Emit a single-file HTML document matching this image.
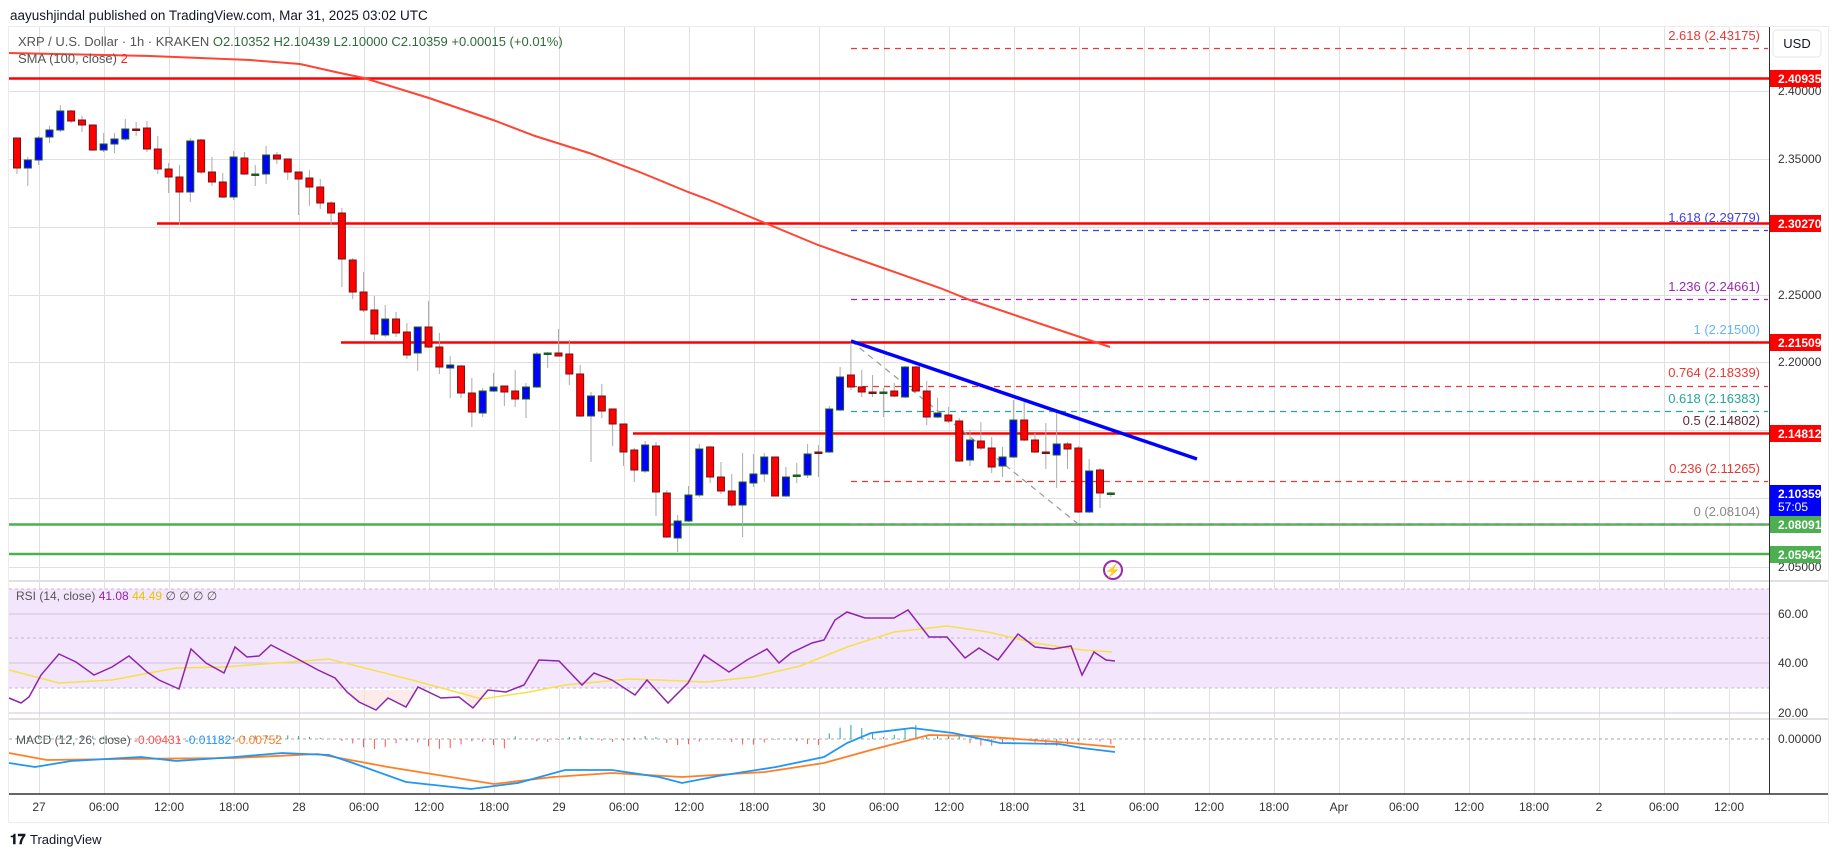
<!DOCTYPE html>
<html><head><meta charset="utf-8"><style>
html,body{margin:0;padding:0;background:#fff;}
svg{display:block;font-family:"Liberation Sans",sans-serif;}
</style></head><body>
<svg id="s" width="1835" height="857" xmlns="http://www.w3.org/2000/svg">
<rect x="0" y="0" width="1835" height="857" fill="#fff"/>
<text x="10" y="20" font-size="13.5" fill="#131722">aayushjindal published on TradingView.com, Mar 31, 2025 03:02 UTC</text>
<rect x="8.5" y="26.5" width="1820" height="796" fill="#fff" stroke="#ececec"/>
<g id="grid" stroke="#e0e0e0" stroke-width="1"></g>
<!-- horizontal key lines -->
<line x1="9" y1="78.5" x2="1769" y2="78.5" stroke="#ff0000" stroke-width="2.5"/>
<line x1="157" y1="223.5" x2="1769" y2="223.5" stroke="#ff0000" stroke-width="2.5"/>
<line x1="341" y1="342.5" x2="1769" y2="342.5" stroke="#ff0000" stroke-width="2.5"/>
<line x1="633" y1="433.5" x2="1769" y2="433.5" stroke="#ff0000" stroke-width="2.5"/>
<line x1="9" y1="524.5" x2="1769" y2="524.5" stroke="#4caf50" stroke-width="2.5"/>
<line x1="9" y1="554" x2="1769" y2="554" stroke="#4caf50" stroke-width="2.5"/>
<!-- fib -->
<g stroke-width="1.2" stroke-dasharray="6,5" fill="none">
<line x1="851" y1="48.5" x2="1768" y2="48.5" stroke="#e53935"/>
<line x1="851" y1="230.5" x2="1768" y2="230.5" stroke="#3f3fe0"/>
<line x1="851" y1="299.5" x2="1768" y2="299.5" stroke="#9c27b0"/>
<line x1="851" y1="386.5" x2="1768" y2="386.5" stroke="#e53935"/>
<line x1="851" y1="411.5" x2="1768" y2="411.5" stroke="#26a69a"/>
<line x1="851" y1="481.5" x2="1768" y2="481.5" stroke="#e53935"/>
<line x1="851" y1="524" x2="1768" y2="524" stroke="#999"/>
<line x1="851" y1="341" x2="1077" y2="523" stroke="#999"/>
</g>
<g font-size="13" text-anchor="end">
<text x="1760" y="40" fill="#e53935">2.618 (2.43175)</text>
<text x="1760" y="222" fill="#3f3fe0">1.618 (2.29779)</text>
<text x="1760" y="291" fill="#9c27b0">1.236 (2.24661)</text>
<text x="1760" y="334" fill="#64b5f6">1 (2.21500)</text>
<text x="1760" y="377" fill="#e53935">0.764 (2.18339)</text>
<text x="1760" y="403" fill="#26a69a">0.618 (2.16383)</text>
<text x="1760" y="425" fill="#5d2a3a">0.5 (2.14802)</text>
<text x="1760" y="473" fill="#e53935">0.236 (2.11265)</text>
<text x="1760" y="516" fill="#888">0 (2.08104)</text>
</g>
<!-- SMA -->
<polyline fill="none" stroke="#ff4433" stroke-width="2" points="9,53 150,56 250,60 300,64 340,73 364,78 429,98 493,120 535,136 589,153 642,173 688,192 707,199 765,223 818,245 883,268 940,288 970,300 1050,327 1110,347"/>
<g id="candles"></g>
<!-- trendline -->
<line x1="851" y1="341" x2="1197" y2="459" stroke="#0000ff" stroke-width="3.5"/>
<!-- legend -->
<text x="18" y="46" font-size="13" fill="#555">XRP / U.S. Dollar · 1h · KRAKEN <tspan fill="#2e6b3a">O2.10352  H2.10439  L2.10000  C2.10359  +0.00015 (+0.01%)</tspan></text>
<text x="18" y="63" font-size="13" fill="#555">SMA (100, close) <tspan fill="#ff2222">2</tspan></text>
<!-- lightning icon -->
<circle cx="1113" cy="570" r="9" fill="none" stroke="#9c27b0" stroke-width="2"/>
<text x="1113" y="575" font-size="13" fill="#9c27b0" text-anchor="middle">⚡</text>
<!-- panes separators -->
<line x1="9" y1="581" x2="1828" y2="581" stroke="#e0e0e0" stroke-width="2"/>
<rect x="9" y="589" width="1760" height="99" fill="#f3e5fb"/>
<g stroke="#c8b6d6" stroke-dasharray="3,3"><line x1="9" y1="589" x2="1769" y2="589"/><line x1="9" y1="638" x2="1769" y2="638"/><line x1="9" y1="688" x2="1769" y2="688"/></g>
<g stroke="#d3c4dd"><line x1="9" y1="614" x2="1769" y2="614"/><line x1="9" y1="663" x2="1769" y2="663"/><line x1="9" y1="713" x2="1769" y2="713"/></g>
<polygon points="347,692 359,702 376,710 388,698 406,707 418,690 441,690 459,690 473,708 488,690 350,690" fill="#fbdde0" opacity="0.6"/>
<polyline fill="none" stroke="#f5e14a" stroke-width="1.5" points="9,670 59,683 112,680 176,668 224,667 329,659 412,680 482,699 529,692 565,685 629,679 659,680 706,682 753,677 800,666 847,647 894,632 947,626 988,632 1035,643 1082,650 1112,652"/>
<polyline fill="none" stroke="#8e24aa" stroke-width="1.5" points="9,698 21,703 29,697 41,675 59,654 76,662 94,675 112,667 129,656 147,672 159,680 179,689 191,649 206,663 224,673 235,647 247,657 259,656 271,645 294,657 318,670 335,678 347,692 359,702 376,710 388,698 406,707 418,687 441,698 459,697 473,708 488,690 506,692 524,685 539,660 559,661 582,685 594,673 612,680 635,695 647,680 668,703 688,683 704,655 729,672 747,660 767,649 779,663 791,653 812,643 824,640 835,620 847,612 865,618 894,618 908,610 929,637 947,637 965,658 979,648 998,660 1018,634 1035,647 1053,649 1071,646 1082,675 1094,652 1106,660 1115,661"/>
<text x="16" y="600" font-size="12" fill="#555">RSI (14, close) <tspan fill="#8e24aa">41.08</tspan> <tspan fill="#e6c700">44.49</tspan> ∅ ∅ ∅ ∅</text>
<line x1="9" y1="719" x2="1828" y2="719" stroke="#e0e0e0" stroke-width="2"/>
<line x1="9" y1="739" x2="1769" y2="739" stroke="#aaa" stroke-dasharray="3,3"/>
<g id="hist" stroke-width="1"></g>
<polyline fill="none" stroke="#ff7f27" stroke-width="1.8" points="9,753 47,760 118,759 235,758 318,754 388,767 494,784 553,777 612,773 682,777 765,772 824,763 871,750 929,735 976,736 1059,742 1115,747"/>
<polyline fill="none" stroke="#2196f3" stroke-width="1.8" points="9,763 35,767 71,761 141,757 176,761 235,757 282,753 329,755 353,763 406,782 471,789 518,783 565,770 612,770 659,777 682,783 718,776 776,767 824,757 847,743 871,733 912,728 953,733 1000,743 1059,744 1082,748 1115,752"/>
<text x="16" y="744" font-size="12" fill="#555">MACD (12, 26, close) <tspan fill="#ff5252">-0.00431</tspan> <tspan fill="#2196f3">-0.01182</tspan> <tspan fill="#ff7f27">-0.00752</tspan></text>
<line x1="9" y1="794" x2="1828" y2="794" stroke="#333" stroke-width="1.5"/>
<line x1="1769.5" y1="27" x2="1769.5" y2="794" stroke="#333" stroke-width="1"/>
<g id="tl" font-size="12" fill="#333" text-anchor="middle"></g>
<!-- price axis -->
<rect x="1773" y="30" width="48" height="27" rx="4" fill="#fff" stroke="#e6e6e6"/>
<text x="1797" y="48" font-size="13" fill="#131722" text-anchor="middle">USD</text>
<g font-size="12" fill="#333">
<text x="1778" y="95">2.40000</text><text x="1778" y="163">2.35000</text><text x="1778" y="299">2.25000</text><text x="1778" y="366">2.20000</text><text x="1778" y="571">2.05000</text>
<text x="1778" y="618">60.00</text><text x="1778" y="667">40.00</text><text x="1778" y="717">20.00</text><text x="1778" y="743">0.00000</text>
</g>
<g font-size="12" fill="#fff" font-weight="bold">
<rect x="1770" y="70" width="51" height="17" fill="#ff0000"/><text x="1778" y="83">2.40935</text>
<rect x="1770" y="215" width="51" height="17" fill="#ff0000"/><text x="1778" y="228">2.30270</text>
<rect x="1770" y="334" width="51" height="17" fill="#ff0000"/><text x="1778" y="347">2.21509</text>
<rect x="1770" y="425" width="51" height="17" fill="#ff0000"/><text x="1778" y="438">2.14812</text>
<rect x="1770" y="485" width="51" height="31" fill="#0000ff"/><text x="1778" y="498">2.10359</text><text x="1778" y="511" font-weight="normal">57:05</text>
<rect x="1770" y="516" width="51" height="17" fill="#4caf50"/><text x="1778" y="529">2.08091</text>
<rect x="1770" y="546" width="51" height="17" fill="#4caf50"/><text x="1778" y="559">2.05942</text>
</g>
<text x="10" y="844" font-size="14" fill="#131722" font-weight="bold">𝟏𝟕</text>
<text x="30" y="844" font-size="13" fill="#131722">TradingView</text>
</svg>
<script>
var NS="http://www.w3.org/2000/svg";
function el(p,t,a,txt){var e=document.createElementNS(NS,t);for(var k in a)e.setAttribute(k,a[k]);if(txt)e.textContent=txt;p.appendChild(e);return e;}
var g=document.getElementById("grid");
for(var i=0;i<27;i++){var x=39+65*i+0.5;el(g,"line",{x1:x,y1:27,x2:x,y2:794});}
[91,159,227,295,362,430,498,567].forEach(function(y){el(g,"line",{x1:9,y1:y+.5,x2:1769,y2:y+.5});});
var labs=["27","06:00","12:00","18:00","28","06:00","12:00","18:00","29","06:00","12:00","18:00","30","06:00","12:00","18:00","31","06:00","12:00","18:00","Apr","06:00","12:00","18:00","2","06:00","12:00"];
var tl=document.getElementById("tl");
labs.forEach(function(l,i){el(tl,"text",{x:39+65*i,y:811},l);});
var d=[[138,168,138,174,"r"],[160,168,157,186,"b"],[138,160,136,165,"b"],[130,137,126,143,"b"],[111,130,105,132,"b"],[111,121,110,123,"r"],[120,125,116,132,"r"],[125,150,125,151,"r"],[144,150,133,152,"b"],[139,144,133,153,"b"],[129,139,119,141,"b"],[129,130,122,136,"d"],[128,149,121,152,"r"],[149,169,136,174,"r"],[169,177,163,193,"r"],[177,192,165,225,"r"],[141,192,138,202,"b"],[140,172,139,174,"r"],[172,182,157,186,"r"],[182,197,173,198,"r"],[157,197,151,200,"b"],[158,174,152,175,"r"],[174,175,165,186,"g"],[155,174,146,184,"b"],[155,159,152,164,"r"],[159,172,159,180,"r"],[172,179,172,215,"r"],[178,187,170,206,"r"],[187,203,179,209,"r"],[203,213,201,225,"r"],[213,259,208,287,"r"],[260,292,258,299,"r"],[292,310,272,312,"r"],[310,334,296,340,"r"],[319,335,305,337,"b"],[319,333,312,337,"r"],[332,355,323,359,"r"],[327,353,327,371,"b"],[327,347,301,348,"r"],[347,367,333,374,"r"],[365,368,356,398,"b"],[366,393,365,398,"r"],[393,412,378,427,"r"],[391,413,388,417,"b"],[387,391,373,392,"b"],[386,392,386,406,"r"],[391,399,370,407,"r"],[387,399,383,418,"b"],[354,387,352,388,"b"],[353,354,352,368,"g"],[353,356,329,356,"r"],[354,374,340,385,"r"],[374,416,365,417,"r"],[396,416,392,462,"b"],[396,411,384,418,"r"],[409,424,409,446,"r"],[424,452,424,466,"r"],[450,470,448,482,"r"],[445,471,441,473,"b"],[446,492,442,516,"r"],[493,537,490,538,"r"],[521,538,515,552,"b"],[495,521,486,522,"b"],[449,495,444,497,"b"],[447,477,446,483,"r"],[477,491,462,494,"r"],[491,505,474,507,"r"],[482,505,453,537,"b"],[474,483,454,487,"b"],[457,474,453,482,"b"],[457,496,457,496,"r"],[477,496,467,497,"b"],[475,476,463,483,"g"],[454,475,444,478,"b"],[452,453,445,477,"d"],[409,452,406,453,"b"],[377,410,367,411,"b"],[375,387,341,390,"r"],[387,392,370,397,"r"],[392,393,375,397,"d"],[392,393,388,417,"g"],[391,396,383,397,"r"],[367,397,366,398,"b"],[367,391,366,392,"r"],[391,417,381,425,"r"],[413,417,398,418,"b"],[415,421,407,423,"r"],[421,461,418,462,"r"],[440,460,430,466,"b"],[441,448,422,450,"r"],[448,467,437,473,"r"],[457,466,447,477,"b"],[420,457,400,458,"b"],[420,440,402,441,"r"],[440,452,433,453,"r"],[452,453,423,469,"d"],[444,455,412,488,"b"],[444,449,442,469,"r"],[448,512,446,513,"r"],[471,512,459,513,"b"],[470,493,468,508,"r"],[493,494,492,497,"g"]];
var c=document.getElementById("candles");
d.forEach(function(k,i){var x=17+i*10.83;
el(c,"line",{x1:x,y1:k[2],x2:x,y2:k[3],stroke:"#aaa","stroke-width":1});
var f={r:"#ff0000",b:"#0000ff",d:"#7a1a1a",g:"#1b5e20"}[k[4]];
var s=(k[4]=="r"||k[4]=="d")?"#7a1010":"#1b5e20";
var h=Math.max(1.5,k[1]-k[0]);
el(c,"rect",{x:x-3.5,y:k[0],width:7,height:h,fill:f,stroke:s,"stroke-width":1});});
var hg=document.getElementById("hist");
for(var i=0;i<102;i++){var x=17+i*10.83;var v;
if(i<30)v=Math.sin(i/3)*3+1;else if(i<46)v=-6-Math.sin(i)*4;else if(i<60)v=Math.sin(i)*3;else if(i<75)v=-3+Math.sin(i)*3;else if(i<88)v=(i<84?8+Math.sin(i)*6:4);else v=-4-Math.sin(i)*3;
var y2=739+(-v);el(hg,"line",{x1:x,y1:739,x2:x,y2:y2,stroke:v>0?"#26a69a":"#ff5252"});}
</script>
</body></html>
